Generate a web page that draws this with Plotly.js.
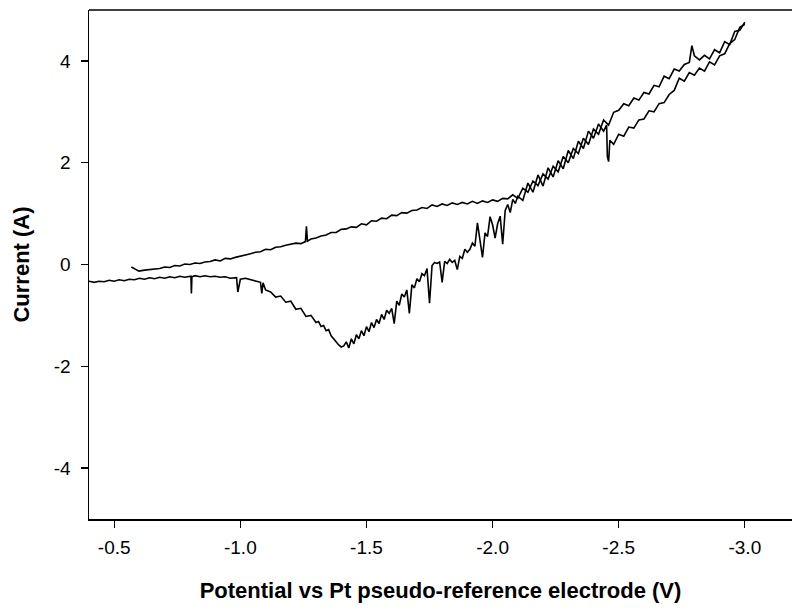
<!DOCTYPE html>
<html>
<head>
<meta charset="utf-8">
<script src="https://cdn.plot.ly/plotly-3.0.1.min.js"></script>
<style>html,body{margin:0;padding:0;background:#fff;overflow:hidden}</style>
</head>
<body>
<div id="chart" style="width:792px;height:610px"></div>
<script>
// Forward scan (upper branch), potential in V and current in A
const scanForwardV = [-0.568,-0.598,-0.62,-0.64,-0.66,-0.68,-0.70,-0.72,-0.74,-0.76,-0.78,-0.80,-0.82,-0.84,-0.86,-0.88,-0.90,-0.92,-0.94,-0.96,-0.98,-1.00,-1.02,-1.04,-1.06,-1.08,-1.10,-1.12,-1.14,-1.16,-1.18,-1.20,-1.22,-1.24,-1.258,-1.262,-1.266,-1.28,-1.30,-1.32,-1.34,-1.36,-1.38,-1.40,-1.42,-1.44,-1.46,-1.48,-1.50,-1.52,-1.54,-1.56,-1.58,-1.60,-1.62,-1.64,-1.66,-1.68,-1.70,-1.72,-1.74,-1.76,-1.78,-1.80,-1.82,-1.84,-1.86,-1.88,-1.90,-1.92,-1.94,-1.96,-1.98,-2.00,-2.02,-2.04,-2.06,-2.08,-2.10,-2.12,-2.14,-2.16,-2.18,-2.20,-2.22,-2.24,-2.26,-2.28,-2.30,-2.32,-2.34,-2.36,-2.38,-2.40,-2.42,-2.44,-2.46,-2.48,-2.50,-2.52,-2.54,-2.56,-2.58,-2.60,-2.62,-2.64,-2.66,-2.68,-2.70,-2.72,-2.74,-2.76,-2.78,-2.79,-2.80,-2.82,-2.84,-2.86,-2.88,-2.90,-2.92,-2.94,-2.96,-2.98,-3.00];
const scanForwardA = [-0.05,-0.13,-0.11,-0.10,-0.08,-0.08,-0.05,-0.06,-0.02,-0.03,0.01,0.00,0.03,0.02,0.05,0.06,0.09,0.07,0.12,0.11,0.14,0.16,0.19,0.21,0.24,0.25,0.30,0.29,0.34,0.35,0.38,0.40,0.42,0.41,0.45,0.75,0.46,0.50,0.52,0.56,0.58,0.63,0.63,0.69,0.70,0.74,0.73,0.80,0.78,0.86,0.85,0.91,0.90,0.97,0.96,1.02,1.01,1.06,1.07,1.12,1.10,1.17,1.14,1.19,1.16,1.21,1.18,1.22,1.19,1.24,1.20,1.25,1.22,1.27,1.24,1.30,1.29,1.37,1.30,1.50,1.42,1.64,1.55,1.78,1.68,1.93,1.82,2.12,2.00,2.28,2.18,2.48,2.36,2.66,2.56,2.84,2.74,2.99,3.03,3.16,3.12,3.27,3.23,3.38,3.35,3.52,3.49,3.70,3.65,3.84,3.80,3.93,3.97,4.30,4.10,4.02,4.11,4.04,4.22,4.16,4.38,4.32,4.58,4.60,4.76];

// Reverse scan (lower branch)
const scanReverseV = [-3.00,-2.98,-2.96,-2.94,-2.92,-2.90,-2.88,-2.86,-2.84,-2.82,-2.80,-2.78,-2.76,-2.74,-2.72,-2.70,-2.68,-2.66,-2.64,-2.62,-2.60,-2.58,-2.56,-2.54,-2.52,-2.50,-2.48,-2.465,-2.46,-2.455,-2.452,-2.44,-2.42,-2.40,-2.38,-2.36,-2.34,-2.32,-2.30,-2.28,-2.26,-2.24,-2.22,-2.20,-2.18,-2.16,-2.14,-2.12,
  -2.10,-2.09,-2.08,-2.07,-2.06,-2.05,-2.04,-2.03,-2.02,-2.01,-2.00,-1.99,-1.98,-1.97,-1.96,-1.95,-1.94,-1.93,-1.92,-1.91,-1.90,-1.89,-1.88,-1.87,-1.86,-1.85,-1.84,-1.83,-1.82,-1.81,-1.80,-1.79,-1.78,-1.77,-1.76,-1.75,-1.74,-1.73,-1.72,-1.71,-1.70,-1.69,-1.68,-1.67,-1.66,-1.65,-1.64,-1.63,-1.62,-1.61,-1.60,-1.59,-1.58,-1.57,-1.56,-1.55,-1.54,-1.53,-1.52,-1.51,-1.50,-1.49,-1.48,-1.47,-1.46,-1.45,-1.44,-1.43,-1.42,-1.41,-1.40,-1.39,-1.38,-1.37,-1.36,-1.35,-1.34,-1.33,-1.32,-1.31,-1.30,
  -1.28,-1.26,-1.24,-1.22,-1.20,-1.18,-1.16,-1.14,-1.12,-1.10,-1.09,-1.085,-1.08,-1.06,-1.04,-1.02,-1.00,-0.99,-0.985,-0.96,-0.94,-0.92,-0.90,-0.88,-0.86,-0.84,-0.82,-0.808,-0.806,-0.804,-0.78,-0.76,-0.74,-0.72,-0.70,-0.68,-0.66,-0.64,-0.62,-0.60,-0.58,-0.56,-0.54,-0.52,-0.50,-0.48,-0.46,-0.44,-0.42,-0.40];
const scanReverseA = [4.72,4.66,4.42,4.34,4.14,4.10,3.92,3.98,3.80,3.86,3.72,3.77,3.60,3.66,3.42,3.34,3.18,3.16,3.00,3.02,2.86,2.84,2.68,2.70,2.52,2.56,2.36,2.44,2.02,2.12,2.74,2.62,2.76,2.48,2.62,2.28,2.42,2.08,2.24,1.88,2.04,1.72,1.90,1.54,1.76,1.42,1.60,1.26,
  1.34,1.20,1.28,1.02,1.18,1.06,0.40,0.95,0.80,0.52,0.78,0.94,0.55,0.62,0.14,0.50,0.82,0.36,0.42,0.30,0.24,0.30,0.12,0.16,-0.10,0.08,0.04,0.10,0.02,0.06,-0.35,0.05,0.02,0.04,-0.02,-0.76,-0.08,-0.22,-0.18,-0.34,-0.28,-0.46,-0.40,-0.96,-0.50,-0.64,-0.58,-0.80,-0.72,-1.16,-0.86,-0.96,-0.90,-1.08,-0.98,-1.16,-1.08,-1.24,-1.14,-1.32,-1.22,-1.40,-1.30,-1.46,-1.38,-1.56,-1.46,-1.64,-1.52,-1.60,-1.62,-1.58,-1.52,-1.44,-1.40,-1.28,-1.30,-1.20,-1.22,-1.12,-1.14,
  -1.00,-1.02,-0.86,-0.88,-0.72,-0.74,-0.62,-0.64,-0.54,-0.50,-0.36,-0.57,-0.35,-0.32,-0.30,-0.27,-0.29,-0.54,-0.26,-0.27,-0.24,-0.25,-0.23,-0.24,-0.22,-0.24,-0.22,-0.24,-0.57,-0.23,-0.25,-0.23,-0.26,-0.24,-0.27,-0.25,-0.28,-0.26,-0.29,-0.27,-0.30,-0.29,-0.32,-0.30,-0.33,-0.31,-0.34,-0.33,-0.35,-0.33];

const xTickVals = [-0.5,-1.0,-1.5,-2.0,-2.5,-3.0];
const xTickText = ['-0.5','-1.0','-1.5','-2.0','-2.5','-3.0'];
const yTickVals = [-4,-2,0,2,4];
const yTickText = ['-4','-2','0','2','4'];

const xTitle = 'Potential vs Pt pseudo-reference electrode (V)';
const yTitle = 'Current (A)';

const lineStyle = {color:'#000', width:1.6};
const traces = [
  {x:scanForwardV, y:scanForwardA, type:'scatter', mode:'lines', line:lineStyle, hoverinfo:'skip'},
  {x:scanReverseV, y:scanReverseA, type:'scatter', mode:'lines', line:lineStyle, hoverinfo:'skip'}
];

const fontFam = 'Arial, "Liberation Sans", sans-serif';
const layout = {
  width:792, height:610,
  margin:{l:89, r:0, t:10, b:91, pad:0},
  paper_bgcolor:'#fff', plot_bgcolor:'#fff',
  showlegend:false,
  font:{family:fontFam, color:'#000', size:19},
  xaxis:{
    range:[-0.4,-3.187], showgrid:false, zeroline:false,
    showline:true, linecolor:'#000', linewidth:1.5,
    ticks:'outside', ticklen:7, tickwidth:1.3, tickcolor:'#000',
    tickvals:xTickVals, ticktext:xTickText,
    tickfont:{family:fontFam, size:19, color:'#000'},
    ticklabelstandoff:4,
    title:{text:xTitle, font:{family:fontFam, size:22, color:'#000', weight:'bold'}, standoff:25}
  },
  yaxis:{
    range:[-5,5], showgrid:false, zeroline:false,
    showline:true, linecolor:'#000', linewidth:1.5,
    ticks:'outside', ticklen:7, tickwidth:1.3, tickcolor:'#000',
    tickvals:yTickVals, ticktext:yTickText,
    tickfont:{family:fontFam, size:19, color:'#000'},
    ticklabelstandoff:6,
    title:{text:yTitle, font:{family:fontFam, size:22, color:'#000', weight:'bold'}, standoff:18}
  },
  shapes:[{type:'line', xref:'paper', yref:'paper', x0:0, x1:1, y0:1, y1:1, line:{color:'#000', width:1.5}}]
};

Plotly.newPlot('chart', traces, layout, {staticPlot:true, displayModeBar:false});
</script>
</body>
</html>
